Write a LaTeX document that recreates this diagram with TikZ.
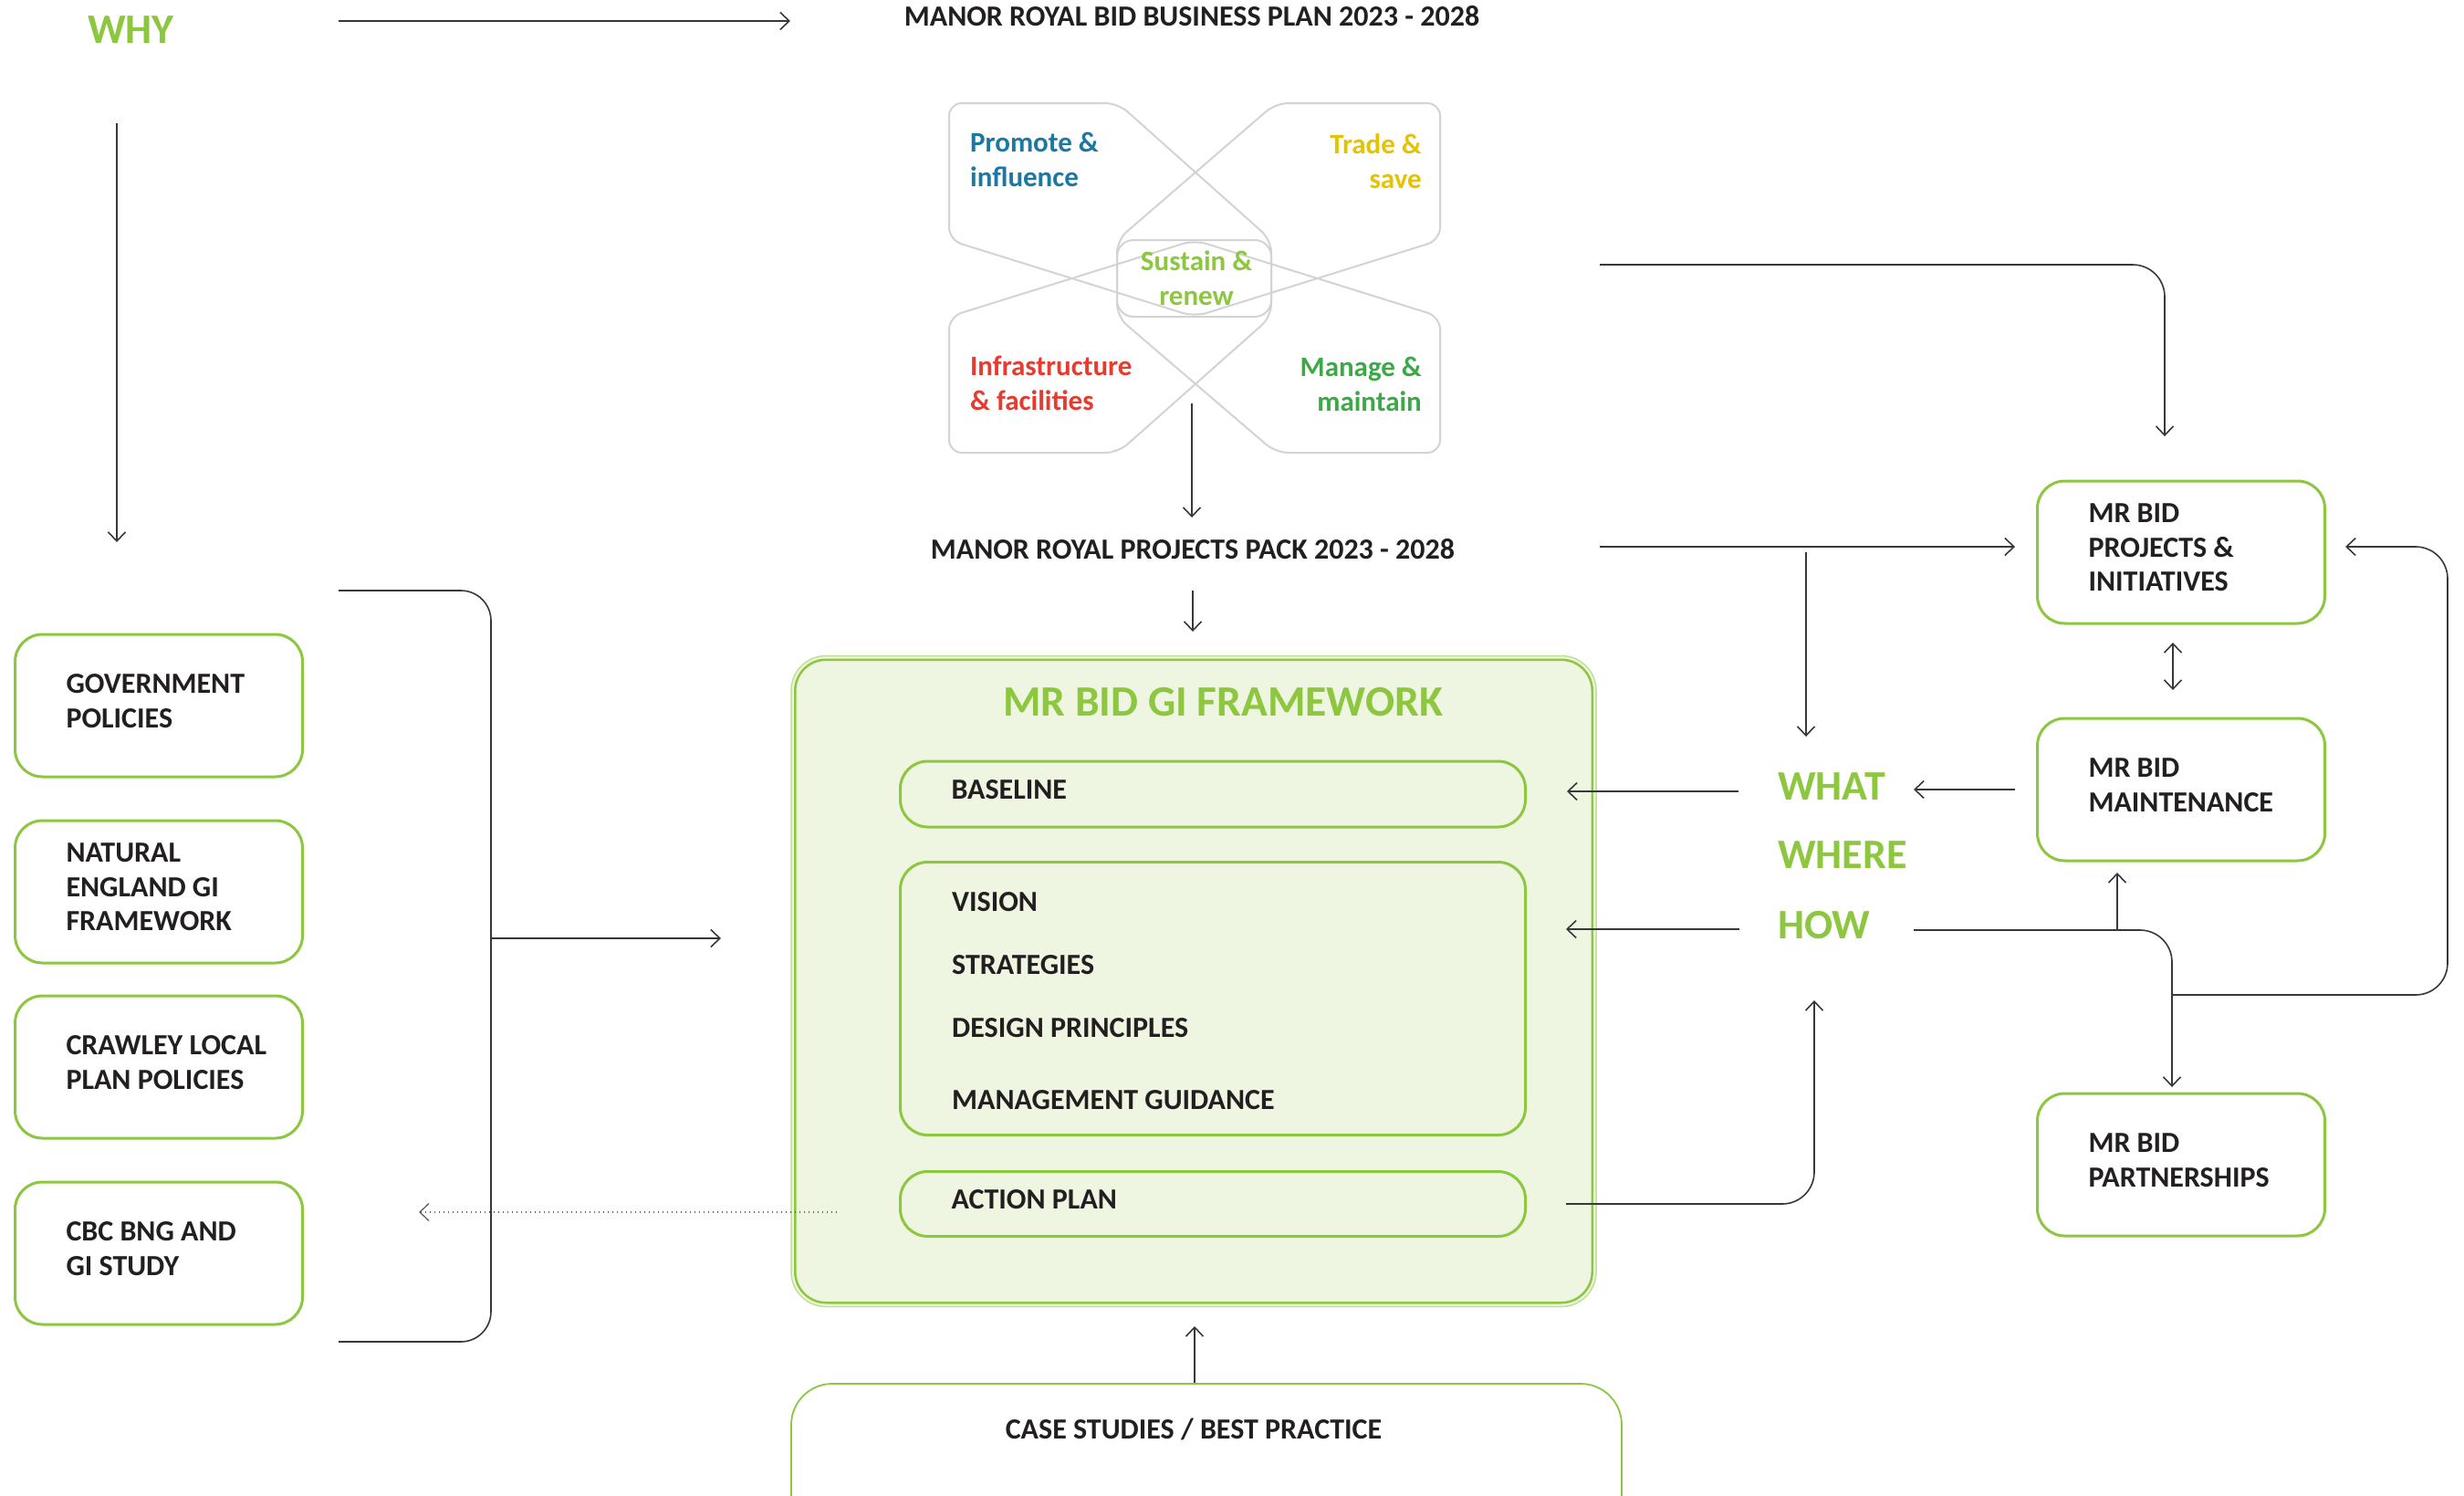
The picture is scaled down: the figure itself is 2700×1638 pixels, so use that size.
\documentclass[tikz,border=0pt]{standalone}
\usepackage{fontspec}
\setmainfont{Carlito}
\usetikzlibrary{arrows.meta}

\definecolor{grnn}{HTML}{8DC63F}
\definecolor{lysgrnn}{HTML}{EEF5E1}
\definecolor{mork}{HTML}{231F20}
\definecolor{strek}{HTML}{383838}
\definecolor{blomstkant}{HTML}{D3D3D3}
\definecolor{blaa}{HTML}{1B78A3}
\definecolor{gul}{HTML}{E6C300}
\definecolor{rod}{HTML}{E43C31}
\definecolor{skog}{HTML}{3CA947}

\tikzset{
  pil/.style={draw=strek, line width=1.6pt, ->},
  prikk/.style={draw=strek!80, line width=1.3pt, dash pattern=on 1.5pt off 3.5pt, ->},
  tekst/.style={text=mork, inner sep=0pt, font=\fontsize{32}{37.5}\selectfont\bfseries},
  boks/.style={tekst, draw=grnn, line width=3pt, rounded corners=30pt,
    minimum width=315pt, minimum height=156pt, text width=203pt, align=flush left,
    execute at end node={\par\vspace{10pt}}},
  indre/.style={boks, minimum width=685pt, text width=573pt},
  tittel/.style={tekst},
  stor/.style={text=grnn, inner sep=0pt, font=\fontsize{46}{50}\selectfont\bfseries},
  lapp/.style={inner sep=0pt, font=\fontsize{31}{38}\selectfont\bfseries},
  kant/.style={draw=blomstkant, line width=2pt},
}

\begin{document}
\begin{tikzpicture}[x=1pt,y=-1pt,>={Straight Barb[length=10pt,width=19pt]}]
  \useasboundingbox (0,0) rectangle (2700,1638);
  \clip (0,0) rectangle (2700,1638);
  \fill[white] (0,0) rectangle (2700,1638);

  % Overskrifter
  \node[stor, anchor=base west] (why) at (96,47) {WHY};
  \node[tittel, anchor=base] (plan) at (1306,28) {MANOR ROYAL BID BUSINESS PLAN 2023 - 2028};
  \node[tittel, anchor=base] (pakke) at (1307,612) {MANOR ROYAL PROJECTS PACK 2023 - 2028};

  % Blomst
  \draw[kant, rounded corners=14pt] (1040,113) -- (1225,113) -- (1393,263) -- (1393,347)
    -- (1225,496) -- (1040,496) -- (1040,347) -- (1309,263) -- (1578,347) -- (1578,496)
    -- (1398,496) -- (1224,347) -- (1224,263) -- (1398,113) -- (1578,113) -- (1578,263)
    -- (1309,347) -- (1040,263) -- cycle;
  \draw[kant, rounded corners=18pt] (1224,263) rectangle (1393,347);
  \node[lapp, text=blaa, align=left, anchor=north west] (promote) at (1063,145) {Promote \&\\influence};
  \node[lapp, text=gul, align=right, anchor=north east] (trade) at (1558,147) {Trade \&\\save};
  \node[lapp, text=grnn, align=center, anchor=north] (sustain) at (1311,275) {Sustain \&\\renew};
  \node[lapp, text=rod, align=left, anchor=north west] (infra) at (1063,390) {Infrastructure\\\& facilities};
  \node[lapp, text=skog, align=right, anchor=north east] (manage) at (1558,391) {Manage \&\\maintain};

  % Venstre bokser
  \foreach \navn/\y/\tekst in {gov/773/{GOVERNMENT\\POLICIES},
      natur/977/{NATURAL\\ENGLAND GI\\FRAMEWORK},
      crawley/1169/{\mbox{CRAWLEY LOCAL}\\PLAN POLICIES},
      cbc/1373/{CBC BNG AND\\GI STUDY}}
    \node[boks] (\navn) at (174,\y) {\tekst};

  % Hoyre bokser
  \foreach \navn/\y/\tekst in {prosjekt/605/{MR BID\\PROJECTS \&\\INITIATIVES},
      vedlikehold/865/{MR BID\\MAINTENANCE},
      partner/1276/{MR BID\\PARTNERSHIPS}}
    \node[boks] (\navn) at (2390,\y) {\tekst};

  % Rammeverk
  \node[draw=grnn!55, line width=1.5pt, fill=lysgrnn, rounded corners=38pt,
    minimum width=882pt, minimum height=713pt] (ramme) at (1308,1075) {};
  \draw[grnn, line width=2.5pt, rounded corners=34pt]
    ([shift={(5,5)}]ramme.north west) rectangle ([shift={(-5,-5)}]ramme.south east);
  \node[stor, font=\fontsize{47.5}{50}\selectfont\bfseries, anchor=base] (rammetittel)
    at (1340,784) {MR BID GI FRAMEWORK};
  \node[indre, minimum height=72pt] (baseline) at (1329,870) {BASELINE};
  \node[indre, minimum height=299pt] (midt) at (1329,1094) {};
  \foreach \i/\y/\tekst in {1/998/VISION, 2/1067/STRATEGIES,
      3/1136/DESIGN PRINCIPLES, 4/1215/MANAGEMENT GUIDANCE}
    \node[tekst, anchor=base west] (midt\i) at (1043,\y) {\tekst};
  \node[indre, minimum height=71pt] (tiltak) at (1329,1319) {ACTION PLAN};

  % Hva, hvor, hvordan
  \foreach \navn/\y/\tekst in {what/876/WHAT, where/951/WHERE, how/1028/HOW}
    \node[stor, anchor=base west] (\navn) at (1948,\y) {\tekst};

  % Eksempler
  \node[draw=grnn, line width=1.8pt, rounded corners=45pt,
    minimum width=910pt, minimum height=250pt] (casebox) at (1322,1641) {};
  \node[tekst, anchor=base] (case) at (1308,1576) {CASE STUDIES / BEST PRACTICE};

  % Punkter for piler
  \coordinate (why-h) at (371,23);      \coordinate (plan-v) at (866,23);
  \coordinate (why-n) at (128,135);     \coordinate (why-s) at (128,594);
  \coordinate (blomst-s) at (1306,442); \coordinate (pakke-n) at (1306,567);
  \coordinate (pakke-s) at (1307,647);  \coordinate (ramme-n) at (1307,692);
  \coordinate (blomst-h) at (1753,290); \coordinate (prosjekt-n) at (2372,478);
  \coordinate (pakke-h) at (1753,599);  \coordinate (prosjekt-v) at (2208,599);
  \coordinate (gren-n) at (1979,605);   \coordinate (what-n) at (1979,807);
  \coordinate (klamme-o) at (371,647);  \coordinate (klamme-m) at (538,1028);
  \coordinate (klamme-u) at (371,1470); \coordinate (ramme-v) at (790,1028);
  \coordinate (tiltak-v) at (917,1328); \coordinate (cbc-h) at (459,1328);
  \coordinate (what-v) at (1905,867);   \coordinate (baseline-h) at (1717,867);
  \coordinate (how-v) at (1906,1018);   \coordinate (midt-h) at (1716,1018);
  \coordinate (vedl-v) at (2208,865);   \coordinate (what-h) at (2097,865);
  \coordinate (prosjekt-s) at (2381,704); \coordinate (vedl-n) at (2381,756);
  \coordinate (how-h) at (2097,1019);   \coordinate (partner-n) at (2380,1191);
  \coordinate (gren-o) at (2320,1019);  \coordinate (vedl-s) at (2320,956);
  \coordinate (gren-h) at (2380,1090);  \coordinate (sloyfe) at (2682,800);
  \coordinate (prosjekt-h) at (2570,599);
  \coordinate (tiltak-h) at (1716,1319); \coordinate (how-s) at (1988,1096);
  \coordinate (case-n) at (1309,1515);  \coordinate (ramme-s) at (1309,1453);

  % Piler
  \draw[pil] (why-h) -- (plan-v);
  \draw[pil] (why-n) -- (why-s);
  \draw[pil] (blomst-s) -- (pakke-n);
  \draw[pil] (pakke-s) -- (ramme-n);
  \draw[pil, rounded corners=35pt] (blomst-h) -| (prosjekt-n);
  \draw[pil] (pakke-h) -- (prosjekt-v);
  \draw[pil] (gren-n) -- (what-n);
  \draw[pil, -, rounded corners=33pt] (klamme-o) -| (klamme-m) |- (klamme-u);
  \draw[pil] (klamme-m) -- (ramme-v);
  \draw[prikk] (tiltak-v) -- (cbc-h);
  \draw[pil] (what-v) -- (baseline-h);
  \draw[pil] (how-v) -- (midt-h);
  \draw[pil] (vedl-v) -- (what-h);
  \draw[pil, <->] (prosjekt-s) -- (vedl-n);
  \draw[pil, rounded corners=35pt] (how-h) -| (partner-n);
  \draw[pil] (gren-o) -- (vedl-s);
  \draw[pil, rounded corners=35pt] (gren-h) -| (sloyfe) |- (prosjekt-h);
  \draw[pil, rounded corners=35pt] (tiltak-h) -| (how-s);
  \draw[pil] (case-n) -- (ramme-s);
\end{tikzpicture}
\end{document}
